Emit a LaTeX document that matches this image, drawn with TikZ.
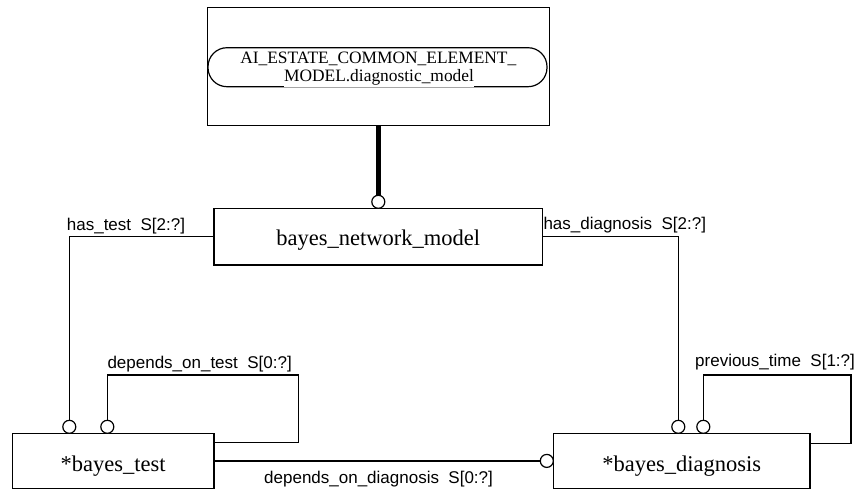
\documentclass[tikz,border=0pt]{standalone}
\usepackage{fontspec}
\setmainfont{Liberation Serif}
\setsansfont{Liberation Sans}
\begin{document}
\begin{tikzpicture}[x=1pt,y=-1pt,
  entity/.style={draw, line width=1.2pt, rectangle, inner sep=0pt, fill=white,
    font=\fontsize{22.5}{26}\selectfont},
  ring/.style={draw, circle, line width=1.2pt, fill=white, inner sep=0pt, minimum size=13pt},
  conn/.style={line width=1.2pt},
  rolelabel/.style={anchor=base west, inner sep=0pt, font=\sffamily\fontsize{17}{20}\selectfont},
  reftext/.style={anchor=base, inner sep=0pt, font=\fontsize{17.4}{20}\selectfont}
]
\useasboundingbox (0,0) rectangle (857,491);
% top reference box
\node[entity, minimum width=342pt, minimum height=118pt] (tb) at (378.3,66.3) {};
\node[draw, line width=1.2pt, rectangle, rounded corners=19pt, minimum width=339pt, minimum height=39pt, inner sep=0pt] (ov) at (377.5,67.2) {};
\node[reftext] (ovt1) at (378.3,63.3) {AI\_ESTATE\_COMMON\_ELEMENT\_};
\node[reftext, fill=white, inner ysep=1.5pt] (ovt2) at (379,81.8) {MODEL.diagnostic\_model};
% entities
\node[entity, minimum width=328.3pt, minimum height=56.7pt, text height=16.8pt, text depth=0pt] (bnm) at (378.2,236.6) {bayes\_network\_model};
\node[entity, minimum width=201.7pt, minimum height=55.2pt, text height=21.6pt, text depth=0pt] (bt) at (113.2,460.9) {*bayes\_test};
\node[entity, minimum width=256.7pt, minimum height=55.2pt, text height=21.6pt, text depth=0pt] (bd) at (681.7,460.9) {*bayes\_diagnosis};
% rings
\node[ring] (c0) at (378.3,201.8) {};
\node[ring] (c1) at (69.3,426.8) {};
\node[ring] (c1b) at (107.3,426.8) {};
\node[ring] (c2) at (678.3,426.8) {};
\node[ring] (c2b) at (703.3,426.8) {};
\node[ring] (c3) at (546.8,460.9) {};
% connectors
\draw[line width=5pt] (tb.south) -- (c0.north);
\draw[conn] (bnm.west) -| (c1.north);
\draw[conn] (bnm.east) -| (c2.north);
\coordinate (l1) at (298.3,375);
\draw[conn] (c1b.north) |- (l1) |- ([yshift=18.2pt]bt.east);
\coordinate (l2) at (851,375);
\draw[conn] (c2b.north) |- (l2) |- ([yshift=17.6pt]bd.east);
\draw[conn] (bt.east) -- (c3.west);
% labels
\node[rolelabel] (lb1) at (66.7,230) {has\_test\ \ S[2:?]};
\node[rolelabel] (lb2) at (107.3,368.3) {depends\_on\_test\ \ S[0:?]};
\node[rolelabel] (lb3) at (543.3,229.3) {has\_diagnosis\ \ S[2:?]};
\node[rolelabel] (lb4) at (695,366.7) {previous\_time\ \ S[1:?]};
\node[rolelabel] (lb5) at (264,483.5) {depends\_on\_diagnosis\ \ S[0:?]};
\end{tikzpicture}
\end{document}
